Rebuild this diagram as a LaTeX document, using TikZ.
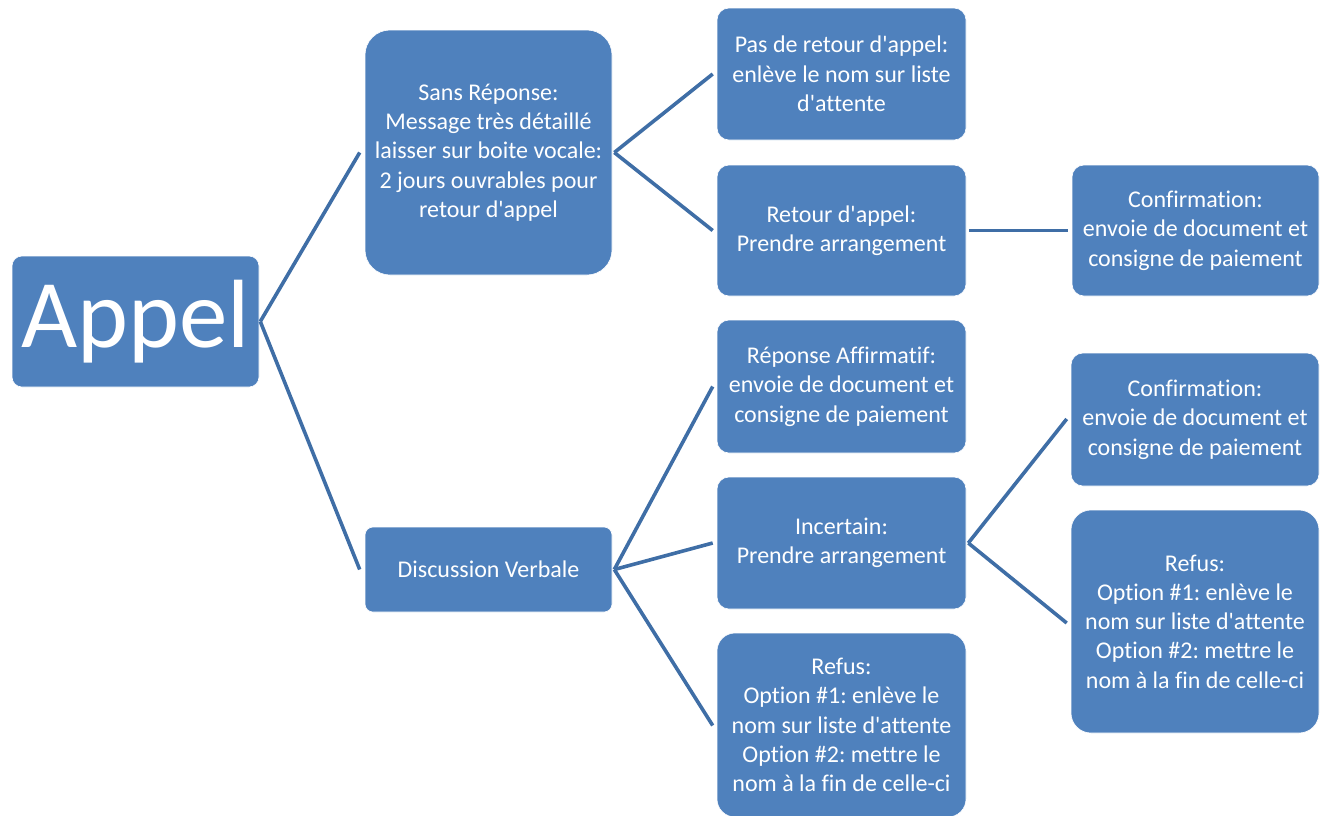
\documentclass[tikz,border=0pt]{standalone}
\usepackage{fontspec}
\setmainfont{Carlito}[Ligatures={NoCommon,TeXOff}]
\frenchspacing
\definecolor{boxblue}{HTML}{4F81BD}
\definecolor{lineblue}{HTML}{3F6EA6}
\begin{document}
\begin{tikzpicture}[x=1pt,y=-1pt,
  box/.style={rectangle, fill=boxblue, draw=white, line width=0.6pt, text=white, align=center, inner sep=0pt,
    font=\fontsize{24}{29.3}\selectfont, rounded corners=12pt},
  conn/.style={draw=lineblue, line width=3.6pt}]
\useasboundingbox (0,0) rectangle (1325,815);
\node[box, minimum width=247pt, minimum height=131pt, rounded corners=10pt, font=\fontsize{97}{110}\selectfont] (appel) at (135.5,321.5) {Appel};
\node[box, minimum width=247pt, minimum height=245pt, rounded corners=25pt] (sans) at (488.5,152.5) {Sans Réponse:\\Message très détaillé\\laisser sur boite vocale:\\2 jours ouvrables pour\\retour d'appel};
\node[box, minimum width=247pt, minimum height=85pt, rounded corners=8pt] (disc) at (488.5,569.5) {Discussion Verbale};
\node[box, minimum width=249pt, minimum height=132pt] (pas) at (841.5,74) {Pas de retour d'appel:\\enlève le nom sur liste\\d'attente};
\node[box, minimum width=249pt, minimum height=131pt] (ret) at (841.5,230.5) {Retour d'appel:\\Prendre arrangement};
\node[box, minimum width=249pt, minimum height=133pt] (rep) at (841.5,386.5) {Réponse Affirmatif:\\envoie de document et\\consigne de paiement};
\node[box, minimum width=249pt, minimum height=132pt] (inc) at (841.5,543) {Incertain:\\Prendre arrangement};
\node[box, minimum width=249pt, minimum height=184pt, rounded corners=18pt] (refm) at (841.5,725) {Refus:\\Option \#1: enlève le\\nom sur liste d'attente\\Option \#2: mettre le\\nom à la fin de celle-ci};
\node[box, minimum width=247pt, minimum height=131pt] (conf1) at (1195.5,230.5) {Confirmation:\\envoie de document et\\consigne de paiement};
\node[box, minimum width=248pt, minimum height=133pt] (conf2) at (1195,419.5) {Confirmation:\\envoie de document et\\consigne de paiement};
\node[box, minimum width=248pt, minimum height=223pt, rounded corners=20pt] (refr) at (1195,621.5) {Refus:\\Option \#1: enlève le\\nom sur liste d'attente\\Option \#2: mettre le\\nom à la fin de celle-ci};
\draw[conn] ([xshift=1pt]appel.east) -- ([xshift=-5pt]sans.west);
\draw[conn] ([xshift=1pt]appel.east) -- ([xshift=-5pt]disc.west);
\draw[conn] ([xshift=2pt]sans.east) -- ([xshift=-4pt]pas.west);
\draw[conn] ([xshift=2pt]sans.east) -- ([xshift=-4pt]ret.west);
\draw[conn] ([xshift=3pt]ret.east) -- ([xshift=-4pt]conf1.west);
\draw[conn] ([xshift=2pt]disc.east) -- ([xshift=-4pt]rep.west);
\draw[conn] ([xshift=2pt]disc.east) -- ([xshift=-4pt]inc.west);
\draw[conn] ([xshift=2pt]disc.east) -- ([xshift=-4pt,yshift=-0.5pt]refm.west);
\draw[conn] ([xshift=2pt]inc.east) -- ([xshift=-4pt,yshift=0.5pt]conf2.west);
\draw[conn] ([xshift=2pt]inc.east) -- ([xshift=-4pt,yshift=-1.5pt]refr.west);
\end{tikzpicture}
\end{document}
